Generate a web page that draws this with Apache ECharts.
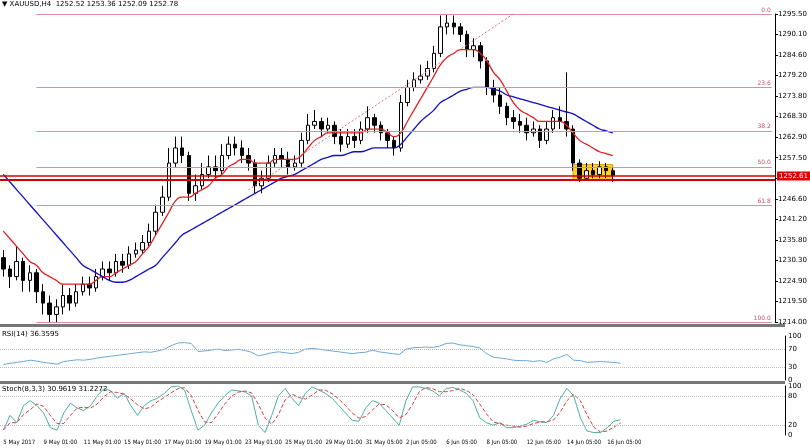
<!DOCTYPE html>
<html><head><meta charset="utf-8">
<script src="https://cdn.jsdelivr.net/npm/echarts@6/dist/echarts.min.js"></script>
<style>html,body{margin:0;padding:0;background:#fff}#c{width:810px;height:448px}</style>
</head><body><div id="c"></div>
<script>
const closes=[1228,1226,1230,1225,1227,1222,1219,1216,1218,1221,1219,1222,1224,1223,1226,1228,1227,1230,1229,1232,1233,1235,1238,1243,1247,1256,1260,1258,1248,1250,1253,1255,1254,1258,1261,1260,1258,1256,1250,1252,1256,1258,1257,1255,1256,1262,1266,1267,1265,1266,1263,1261,1263,1262,1265,1268,1266,1264,1262,1260,1272,1276,1278,1279,1281,1285,1292,1293,1292,1290,1286,1287,1283,1276,1274,1271,1268,1267,1266,1264,1265,1262,1265,1268,1267,1265,1256,1252,1254,1253,1255,1254,1252.8];
const firstOpen=1231;
const highs=[1233,1229,1234,1231,1229,1228,1224,1221,1220,1224,1223,1224,1226,1226,1228,1230,1230,1232,1232,1234,1235,1237,1240,1245,1250,1260,1263,1263,1259,1253,1256,1258,1258,1261,1263,1263,1262,1260,1257,1254,1258,1260,1260,1259,1258,1264,1269,1270,1268,1268,1267,1265,1265,1265,1267,1271,1269,1267,1265,1263,1274,1278,1280,1282,1283,1287,1295,1295.4,1295,1293,1291,1289,1288,1284,1278,1276,1272,1270,1269,1268,1267,1266,1267,1270,1271,1280,1266,1257,1256,1256,1256.5,1256,1255];
const lows=[1226,1223,1225,1222,1222,1219,1216,1214,1214,1216,1217,1218,1221,1221,1222,1225,1225,1226,1227,1228,1231,1232,1234,1237,1242,1246,1255,1256,1246,1246,1249,1252,1252,1253,1257,1258,1256,1254,1248,1248,1251,1255,1255,1253,1254,1255,1261,1265,1263,1264,1261,1259,1260,1260,1261,1264,1264,1262,1260,1258,1259,1271,1275,1277,1278,1280,1284,1290,1290,1288,1284,1284,1281,1274,1272,1269,1266,1265,1264,1262,1263,1260,1261,1264,1265,1263,1254,1251,1251.5,1252,1252,1252,1251];
const maFast=[1238,1236,1234,1232,1230,1229,1227,1226,1225,1224,1224,1224,1224,1224,1225,1226,1226,1227,1228,1229,1230,1232,1234,1237,1240,1243,1246,1247,1247,1248,1249,1250,1252,1253,1255,1256,1257,1257,1256,1256,1256,1257,1257,1257,1257,1258,1260,1262,1263,1264,1264,1264,1264,1264,1264,1265,1265,1265,1264,1263,1264,1267,1270,1273,1276,1279,1282,1284,1285,1286,1286,1286,1285,1283,1280,1278,1275,1272,1270,1269,1268,1267,1267,1267,1267,1266,1264,1262,1261,1260,1259,1258.5,1258];
const maSlow=[1253,1251,1249,1247,1245,1243,1241,1239,1237,1235,1233,1231,1229,1228,1227,1226,1225,1224.5,1224.5,1225,1226,1227,1228,1229,1231,1233,1235,1237,1238,1239,1240,1241,1242,1243,1244,1245,1246,1247,1248,1249,1250,1251,1252,1252.5,1253,1254,1255,1256,1257,1257.5,1258,1258,1258.5,1259,1259,1259.5,1260,1260,1260,1260,1261,1263,1265,1267,1268.5,1270,1272,1273,1274,1275,1275.5,1276,1276,1276,1275.5,1275,1274,1273.5,1273,1272.5,1272,1271.5,1271,1270.5,1270,1269.5,1269,1268,1267,1266,1265,1264.5,1264];
const rsi=[35,38,40,42,45,43,40,38,36,42,44,46,45,47,50,52,54,56,58,60,62,64,63,66,70,78,84,85,83,65,66,68,70,67,68,70,67,63,55,58,62,64,62,60,63,70,72,70,68,66,64,62,60,62,63,68,64,62,60,58,70,73,74,75,74,77,83,84,80,78,76,73,60,52,50,48,45,44,44,42,44,40,48,52,58,45,44,40,41,42,41,40,38];
const stochMain=[10,40,25,60,70,60,45,15,10,45,65,55,50,60,80,95,90,75,85,60,40,60,70,75,85,98,100,92,50,10,20,45,65,80,92,90,88,80,20,5,40,80,95,75,60,85,98,92,85,75,60,45,30,28,55,70,65,50,35,20,70,98,98,95,90,80,95,97,92,85,70,35,25,20,25,15,15,18,22,30,27,25,40,75,95,80,35,8,5,5,15,28,31];
const tickLabels=['5 May 2017','9 May 01:00','11 May 01:00','15 May 01:00','17 May 01:00','19 May 01:00','23 May 01:00','25 May 01:00','29 May 01:00','31 May 05:00','2 Jun 05:00','6 Jun 05:00','8 Jun 05:00','12 Jun 05:00','14 Jun 05:00','16 Jun 05:00'];
const priceLabels=['1214.00','1219.50','1224.90','1230.30','1235.80','1241.20','1246.60','1252.00','1257.50','1262.90','1268.30','1273.80','1279.20','1284.60','1290.10','1295.50'];
const fibLevels=[['0.0',1295.4],['23.6',1276.1],['38.2',1264.5],['50.0',1255.0],['61.8',1244.9],['100.0',1214.0]];

const N=117;
const cats=[];for(let i=0;i<N;i++)cats.push(i%6===0&&tickLabels[i/6]?tickLabels[i/6]:'');
const ohlc=closes.map((c,i)=>{const o=i?closes[i-1]:firstOpen;return [o,c,lows[i],highs[i]];});
const sig=stochMain.map((v,i)=>{const a=stochMain.slice(Math.max(0,i-2),i+1);return a.reduce((s,x)=>s+x,0)/a.length;});
const F='Tahoma, "DejaVu Sans", sans-serif';
const step=81.4/15;
const ch=echarts.init(document.getElementById('c'));
const xBase={type:'category',data:cats,boundaryGap:true,axisTick:{show:false},axisLine:{show:false},axisLabel:{show:false},splitLine:{show:false}};
const fibLines=fibLevels.map(f=>[{coord:[5,f[1]],label:{formatter:f[0]}},{coord:[116,f[1]]}]);
ch.setOption({
 animation:false,
 textStyle:{fontFamily:F},
 grid:[{left:0,right:25,top:14,height:308},{left:0,right:25,top:336,height:44},{left:0,right:25,top:386,height:49}],
 xAxis:[Object.assign({gridIndex:0},xBase),Object.assign({gridIndex:1},xBase),
  Object.assign({},xBase,{gridIndex:2,axisLabel:{show:true,interval:0,align:'left',fontSize:6,color:'#000',margin:4,fontFamily:'"Liberation Sans Narrow", "DejaVu Sans Condensed", sans-serif'}})],
 yAxis:[
  {gridIndex:0,position:'right',min:1214,max:1295.4,interval:step,axisLine:{show:true,lineStyle:{color:'#000'}},axisTick:{show:true,length:3,lineStyle:{color:'#000'}},splitLine:{show:false},
   axisLabel:{fontSize:7,color:'#000',margin:3,formatter:v=>priceLabels[Math.round((v-1214)/step)]||''}},
  {gridIndex:1,position:'right',min:0,max:100,interval:10,axisLine:{show:true,lineStyle:{color:'#000'}},axisTick:{show:false},splitLine:{show:false},
   axisLabel:{fontSize:7,color:'#000',margin:3,formatter:v=>[0,30,70,100].includes(Math.round(v))?String(Math.round(v)):''}},
  {gridIndex:2,position:'right',min:0,max:100,interval:10,axisLine:{show:true,lineStyle:{color:'#000'}},axisTick:{show:false},splitLine:{show:false},
   axisLabel:{fontSize:7,color:'#000',margin:3,formatter:v=>[0,20,80,100].includes(Math.round(v))?String(Math.round(v)):''}}
 ],
 graphic:[
  {type:'text',left:2,top:1,style:{text:'▼ XAUUSD,H4  1252.52 1253.36 1252.09 1252.78',fontSize:7,fill:'#000',fontFamily:F}},
  {type:'rect',shape:{x:0,y:324,width:785,height:3},style:{fill:'#777'}},
  {type:'rect',shape:{x:0,y:381,width:785,height:3},style:{fill:'#777'}},
  {type:'text',left:2,top:331,style:{text:'RSI(14) 36.3595',fontSize:7,fill:'#000',fontFamily:F}},
  {type:'text',left:2,top:386,style:{text:'Stoch(8,3,3) 30.9619 31.2272',fontSize:7,fill:'#000',fontFamily:F}}
 ],
 series:[
  {type:'candlestick',xAxisIndex:0,yAxisIndex:0,data:ohlc,barWidth:4,
   itemStyle:{color:'#fff',color0:'#000',borderColor:'#000',borderColor0:'#000',borderWidth:1},
   markLine:{symbol:'none',silent:true,
    data:[...fibLines.map(d=>[{...d[0],lineStyle:{color:'#e08ca0',width:1,type:'solid'},label:{show:true,position:'insideEndTop',formatter:d[0].label.formatter,fontSize:6,color:'#c0506a',distance:1}},d[1]]),
     [{coord:[37,1248.9],lineStyle:{color:'#e07070',type:[2,2],width:1},label:{show:false}},{coord:[77,1295.4]}],
     {yAxis:1251.6,lineStyle:{color:'#d00000',width:2,type:'solid'},label:{show:false}},
     {yAxis:1252.6,lineStyle:{color:'#d00000',width:1.5,type:'solid'},label:{show:true,position:'end',formatter:'1252.61',backgroundColor:'#e00000',color:'#fff',fontSize:7,padding:[1,2],distance:2}}]},
   markArea:{silent:true,itemStyle:{color:'rgba(255,200,0,0.85)',borderColor:'#d8a000',borderWidth:1},data:[[{coord:[86,1255.6]},{coord:[92,1251.5]}]]},
   z:3},
  {type:'line',xAxisIndex:0,yAxisIndex:0,data:maFast,smooth:true,symbol:'none',lineStyle:{color:'#e02020',width:1.3},z:4},
  {type:'line',xAxisIndex:0,yAxisIndex:0,data:maSlow,smooth:true,symbol:'none',lineStyle:{color:'#1010c0',width:1.3},z:4},
  {type:'line',xAxisIndex:1,yAxisIndex:1,data:rsi,symbol:'none',lineStyle:{color:'#6aa8d8',width:1},
   markLine:{symbol:'none',silent:true,label:{show:false},lineStyle:{color:'#bbb',type:'dotted',width:1},data:[{yAxis:30},{yAxis:70}]}},
  {type:'line',xAxisIndex:2,yAxisIndex:2,data:stochMain,symbol:'none',lineStyle:{color:'#4ab0a0',width:1},
   markLine:{symbol:'none',silent:true,label:{show:false},lineStyle:{color:'#bbb',type:'dotted',width:1},data:[{yAxis:20},{yAxis:80}]}},
  {type:'line',xAxisIndex:2,yAxisIndex:2,data:sig,symbol:'none',lineStyle:{color:'#d04040',width:1,type:'dashed'}}
 ]
});
</script></body></html>
